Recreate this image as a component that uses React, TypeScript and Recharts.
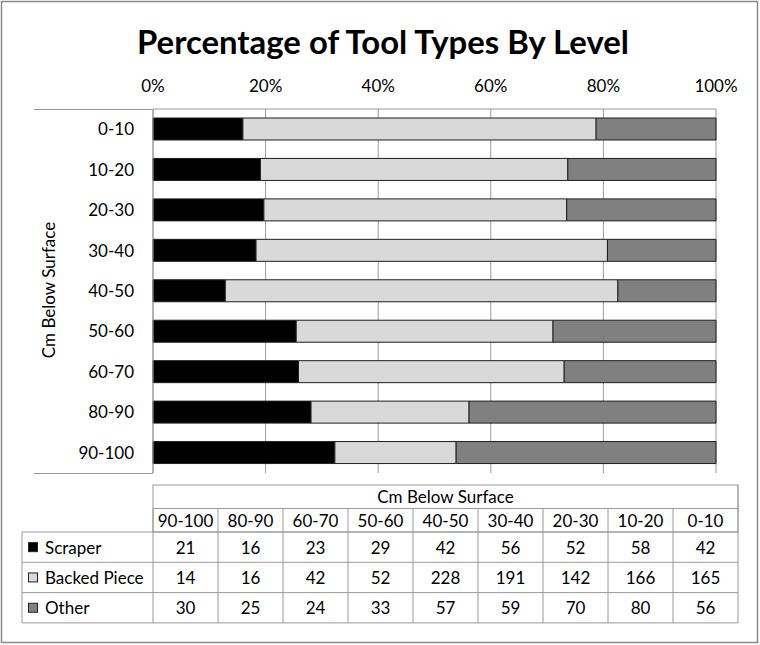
import React from 'react';
import { BarChart, Bar, XAxis, YAxis, CartesianGrid } from 'recharts';

const chartTitle = 'Percentage of Tool Types By Level';
const axisTitle = 'Cm Below Surface';
const levels = ['0-10', '10-20', '20-30', '30-40', '40-50', '50-60', '60-70', '80-90', '90-100'];
const scraper = [42, 58, 52, 56, 42, 29, 23, 16, 21];
const backedPiece = [165, 166, 142, 191, 228, 52, 42, 16, 14];
const other = [56, 80, 70, 59, 57, 33, 24, 25, 30];
const xTicks = [0, 0.2, 0.4, 0.6, 0.8, 1];
const seriesNames = ['Scraper', 'Backed Piece', 'Other'];
const seriesKeys = ['scraper', 'backed', 'other'];
const seriesColors = ['#000000', '#d9d9d9', '#808080'];

const data = levels.map((level, i) => ({
  level,
  scraper: scraper[i],
  backed: backedPiece[i],
  other: other[i],
}));

const FONT = 'Lato, "Open Sans", sans-serif';
const FS = 17;
const LINE = '#9a9a9a';

function DataTable() {
  const x0 = 153;
  const colW = 65;
  const labelX = 22;
  const top = 485;
  const hdrH = 23.5;
  const rowH = 30.3;
  const cols = levels.slice().reverse();
  const series = [scraper, backedPiece, other].map((s) => s.slice().reverse());
  const right = x0 + colW * cols.length;
  const row0 = top + hdrH * 2;
  const bottom = row0 + rowH * 3;
  const els: React.ReactNode[] = [];
  els.push(<rect key="hdr" x={x0} y={top} width={right - x0} height={hdrH * 2} fill="#fff" stroke={LINE} />);
  els.push(<line key="hdrl" x1={x0} x2={right} y1={top + hdrH} y2={top + hdrH} stroke={LINE} />);
  els.push(
    <text key="hdrt" x={(x0 + right) / 2} y={top + hdrH / 2} textAnchor="middle" dominantBaseline="central" fontSize={FS} fontFamily={FONT} fill="#000">
      {axisTitle}
    </text>
  );
  cols.forEach((c, j) => {
    const cx = x0 + colW * j + colW / 2;
    els.push(<line key={'cl' + j} x1={x0 + colW * j} x2={x0 + colW * j} y1={top + hdrH} y2={bottom} stroke={LINE} />);
    els.push(
      <text key={'ct' + j} x={cx} y={top + hdrH * 1.5} textAnchor="middle" dominantBaseline="central" fontSize={FS} fontFamily={FONT} fill="#000">
        {c}
      </text>
    );
  });
  els.push(<line key="clr" x1={right} x2={right} y1={top} y2={bottom} stroke={LINE} />);
  els.push(<line key="rl0" x1={labelX} x2={right} y1={row0} y2={row0} stroke={LINE} />);
  els.push(<line key="rlL" x1={labelX} x2={labelX} y1={row0} y2={bottom} stroke={LINE} />);
  series.forEach((vals, r) => {
    const y = row0 + rowH * r;
    const cy = y + rowH / 2;
    els.push(<line key={'rl' + (r + 1)} x1={labelX} x2={right} y1={y + rowH} y2={y + rowH} stroke={LINE} />);
    els.push(<rect key={'key' + r} x={28.5} y={cy - 4.5} width={9} height={9} fill={seriesColors[r]} stroke="#222" strokeWidth={1} />);
    els.push(
      <text key={'rn' + r} x={45} y={cy} dominantBaseline="central" fontSize={FS} fontFamily={FONT} fill="#000">
        {seriesNames[r]}
      </text>
    );
    vals.forEach((v, j) => {
      els.push(
        <text key={'v' + r + '_' + j} x={x0 + colW * j + colW / 2} y={cy} textAnchor="middle" dominantBaseline="central" fontSize={FS} fontFamily={FONT} fill="#000">
          {v}
        </text>
      );
    });
  });
  return <g>{els}</g>;
}

export default function App() {
  return (
    <div style={{ position: 'absolute', left: 0, top: 0, width: 760, height: 645, background: '#fff' }}>
      <svg width={760} height={645} style={{ position: 'absolute', left: 0, top: 0 }}>
        <rect x={1.5} y={1.5} width={756} height={641} fill="#fff" stroke="#8a8a8a" strokeWidth={1.5} />
        <text x={383} y={54} textAnchor="middle" fontSize={32} fontWeight="bold" fontFamily={FONT} fill="#000" textLength={492} lengthAdjust="spacingAndGlyphs">
          {chartTitle}
        </text>
        <text x={48} y={290} textAnchor="middle" dominantBaseline="central" fontSize={FS} fontFamily={FONT} fill="#000" transform="rotate(-90 48 290)">
          {axisTitle}
        </text>
        <line x1={34} x2={153} y1={109.5} y2={109.5} stroke={LINE} />
        <line x1={34} x2={153} y1={473.5} y2={473.5} stroke={LINE} />
        <DataTable />
      </svg>
      <div style={{ position: 'absolute', left: 0, top: 0 }}>
        <BarChart
          width={760}
          height={645}
          data={data}
          layout="vertical"
          stackOffset="expand"
          barSize={22}
          margin={{ top: 79, right: 44, bottom: 172, left: 33 }}
        >
          <CartesianGrid horizontal={false} vertical={true} stroke={LINE} strokeWidth={1} />
          <XAxis
            type="number"
            orientation="top"
            domain={[0, 1]}
            ticks={xTicks}
            height={30}
            tickLine={false}
            tickSize={0}
            tickMargin={17}
            axisLine={{ stroke: LINE }}
            tick={{ fill: '#000', fontSize: FS, fontFamily: FONT }}
            tickFormatter={(v: number) => `${Math.round(v * 100)}%`}
          />
          <YAxis
            type="category"
            dataKey="level"
            width={120}
            tickLine={false}
            tickSize={0}
            tickMargin={19}
            axisLine={{ stroke: LINE }}
            tick={{ fill: '#000', fontSize: FS, fontFamily: FONT }}
          />
          {seriesKeys.map((k, i) => (
            <Bar
              key={k}
              dataKey={k}
              name={seriesNames[i]}
              stackId="a"
              fill={seriesColors[i]}
              stroke="#1f1f1f"
              strokeWidth={1}
              isAnimationActive={false}
            />
          ))}
        </BarChart>
      </div>
    </div>
  );
}
